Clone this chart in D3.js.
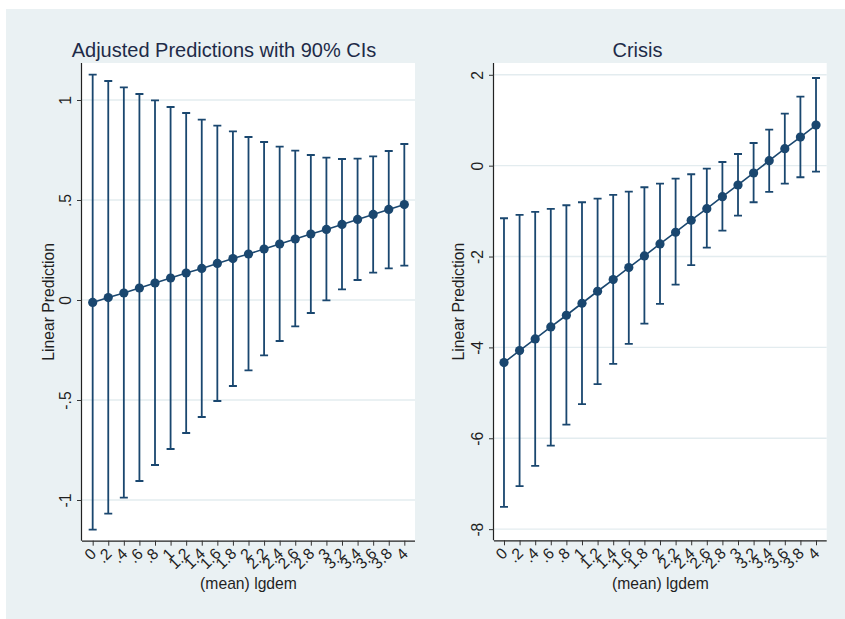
<!DOCTYPE html>
<html>
<head>
<meta charset="utf-8">
<script src="https://cdn.jsdelivr.net/npm/d3@7"></script>
<style>
  html, body { margin: 0; padding: 0; background: #ffffff; }
  svg { display: block; font-family: "Liberation Sans", Arial, Helvetica, sans-serif; }
</style>
</head>
<body>
<svg id="chart" width="845" height="619"></svg>
<script>
// lgdem values at which predictions are evaluated
const xVals = [0, 0.2, 0.4, 0.6, 0.8, 1, 1.2, 1.4, 1.6, 1.8, 2, 2.2, 2.4, 2.6, 2.8, 3, 3.2, 3.4, 3.6, 3.8, 4];
const xTickLabels = ["0", ".2", ".4", ".6", ".8", "1", "1.2", "1.4", "1.6", "1.8", "2", "2.2", "2.4", "2.6", "2.8", "3", "3.2", "3.4", "3.6", "3.8", "4"];

// Left panel: adjusted predictions with 90% confidence intervals
const predMargin = [-0.012, 0.012, 0.035, 0.06, 0.085, 0.11, 0.135, 0.158, 0.183, 0.207, 0.23, 0.255, 0.28, 0.305, 0.33, 0.353, 0.378, 0.403, 0.428, 0.453, 0.477];
const predUpper  = [1.127, 1.095, 1.063, 1.03, 0.998, 0.965, 0.935, 0.902, 0.872, 0.843, 0.815, 0.79, 0.767, 0.747, 0.725, 0.712, 0.705, 0.707, 0.718, 0.745, 0.78];
const predLower  = [-1.148, -1.068, -0.988, -0.905, -0.825, -0.745, -0.665, -0.585, -0.505, -0.43, -0.352, -0.277, -0.205, -0.132, -0.065, -0.002, 0.053, 0.1, 0.137, 0.158, 0.172];
const predYTicks = [-1, -0.5, 0, 0.5, 1];
const predYTickLabels = ["-1", "-.5", "0", ".5", "1"];

// Right panel: Crisis
const crisisMargin = [-4.334, -4.07, -3.813, -3.549, -3.292, -3.028, -2.764, -2.508, -2.244, -1.987, -1.722, -1.465, -1.201, -0.946, -0.682, -0.425, -0.161, 0.11, 0.374, 0.629, 0.893];
const crisisUpper  = [-1.157, -1.085, -1.019, -0.953, -0.871, -0.805, -0.726, -0.645, -0.572, -0.475, -0.396, -0.286, -0.189, -0.066, 0.081, 0.257, 0.499, 0.792, 1.144, 1.518, 1.93];
const crisisLower  = [-7.509, -7.054, -6.607, -6.161, -5.699, -5.25, -4.81, -4.363, -3.923, -3.476, -3.043, -2.618, -2.191, -1.804, -1.43, -1.1, -0.805, -0.579, -0.396, -0.255, -0.132];
const crisisYTicks = [-8, -6, -4, -2, 0, 2];
const crisisYTickLabels = ["-8", "-6", "-4", "-2", "0", "2"];

const NAVY = "#1a476f";
const BG = "#eaf1f3";
const GRID = "#e3ecef";
const TEXT = "#1f1f1f";

const svg = d3.select("#chart");

// graph background
svg.append("rect")
  .attr("x", 6).attr("y", 9)
  .attr("width", 839).attr("height", 610)
  .attr("fill", BG);

function drawPanel(cfg) {
  const g = svg.append("g");
  const { left, right, top, bottom } = cfg.plot;

  const x = d3.scaleLinear().domain(cfg.xDomain).range([left, right]);
  const y = d3.scaleLinear().domain(cfg.yDomain).range([bottom, top]);

  // plot region
  g.append("rect")
    .attr("x", left).attr("y", top)
    .attr("width", right - left).attr("height", bottom - top)
    .attr("fill", "#ffffff");

  // horizontal grid lines
  g.append("g").selectAll("line")
    .data(cfg.yTicks)
    .join("line")
    .attr("x1", left).attr("x2", right)
    .attr("y1", d => y(d)).attr("y2", d => y(d))
    .attr("stroke", GRID).attr("stroke-width", 1.4);

  // y axis
  const yAxis = d3.axisLeft(y)
    .tickValues(cfg.yTicks)
    .tickFormat((d, i) => cfg.yTickLabels[i])
    .tickSize(5)
    .tickPadding(6);
  const ya = g.append("g").attr("transform", `translate(${left},0)`).call(yAxis);
  ya.select(".domain").attr("d", `M-0.5,${bottom}V${top}`).attr("stroke", "#222").attr("stroke-width", 1.2);
  ya.selectAll(".tick line").attr("stroke", "#333").attr("stroke-width", 1);
  ya.selectAll(".tick text")
    .attr("font-size", 15.7)
    .attr("fill", TEXT)
    .attr("font-family", "Liberation Sans, Arial, sans-serif")
    .attr("x", null).attr("dy", null)
    .attr("text-anchor", "middle")
    .attr("transform", "translate(-11.3,0) rotate(-90)");

  // x axis
  const xAxis = d3.axisBottom(x)
    .tickValues(xVals)
    .tickFormat((d, i) => xTickLabels[i])
    .tickSize(5);
  const xa = g.append("g").attr("transform", `translate(0,${bottom})`).call(xAxis);
  xa.select(".domain").attr("d", `M${left},0.5H${right}`).attr("stroke", "#222").attr("stroke-width", 1.2);
  xa.selectAll(".tick line").attr("stroke", "#333").attr("stroke-width", 1);
  xa.selectAll(".tick text")
    .attr("font-size", 15.7)
    .attr("fill", TEXT)
    .attr("font-family", "Liberation Sans, Arial, sans-serif")
    .attr("y", null).attr("dy", null)
    .attr("text-anchor", "end")
    .attr("transform", "translate(4,14) rotate(-45)");

  // confidence interval spikes with caps
  const ci = g.append("g").attr("stroke", NAVY).attr("stroke-width", 1.8).attr("fill", "none");
  const cap = 4;
  ci.selectAll("path")
    .data(xVals.map((v, i) => ({ x: v, lo: cfg.lower[i], hi: cfg.upper[i] })))
    .join("path")
    .attr("d", d => {
      const px = x(d.x), yl = y(d.lo), yh = y(d.hi);
      return `M${px},${yl}V${yh}M${px - cap},${yh}H${px + cap}M${px - cap},${yl}H${px + cap}`;
    });

  // connected estimates
  const line = d3.line().x((d, i) => x(xVals[i])).y(d => y(d));
  g.append("path")
    .datum(cfg.margin)
    .attr("d", line)
    .attr("fill", "none")
    .attr("stroke", NAVY)
    .attr("stroke-width", 1.6);

  g.append("g").selectAll("circle")
    .data(cfg.margin)
    .join("circle")
    .attr("cx", (d, i) => x(xVals[i]))
    .attr("cy", d => y(d))
    .attr("r", 4.6)
    .attr("fill", NAVY);

  // titles
  g.append("text")
    .attr("x", cfg.titleX).attr("y", 57)
    .attr("text-anchor", "middle")
    .attr("font-size", 20)
    .attr("fill", "#1e2b48")
    .text(cfg.title);

  g.append("text")
    .attr("transform", `translate(${cfg.yTitleX},${(top + bottom) / 2}) rotate(-90)`)
    .attr("text-anchor", "middle")
    .attr("font-size", 15.7)
    .attr("fill", TEXT)
    .text("Linear Prediction");

  g.append("text")
    .attr("x", (left + right) / 2).attr("y", 589)
    .attr("text-anchor", "middle")
    .attr("font-size", 15.7)
    .attr("fill", TEXT)
    .text("(mean) lgdem");
}

drawPanel({
  title: "Adjusted Predictions with 90% CIs",
  titleX: 224,
  yTitleX: 53.5,
  plot: { left: 82, right: 415, top: 63, bottom: 540.7 },
  xDomain: [-0.137, 4.137],
  yDomain: [-1.2035, 1.185],
  yTicks: predYTicks,
  yTickLabels: predYTickLabels,
  margin: predMargin,
  upper: predUpper,
  lower: predLower
});

drawPanel({
  title: "Crisis",
  titleX: 637.5,
  yTitleX: 464,
  plot: { left: 494, right: 826.7, top: 63, bottom: 540.3 },
  xDomain: [-0.128, 4.137],
  yDomain: [-8.2455, 2.2596],
  yTicks: crisisYTicks,
  yTickLabels: crisisYTickLabels,
  margin: crisisMargin,
  upper: crisisUpper,
  lower: crisisLower
});
</script>
</body>
</html>
